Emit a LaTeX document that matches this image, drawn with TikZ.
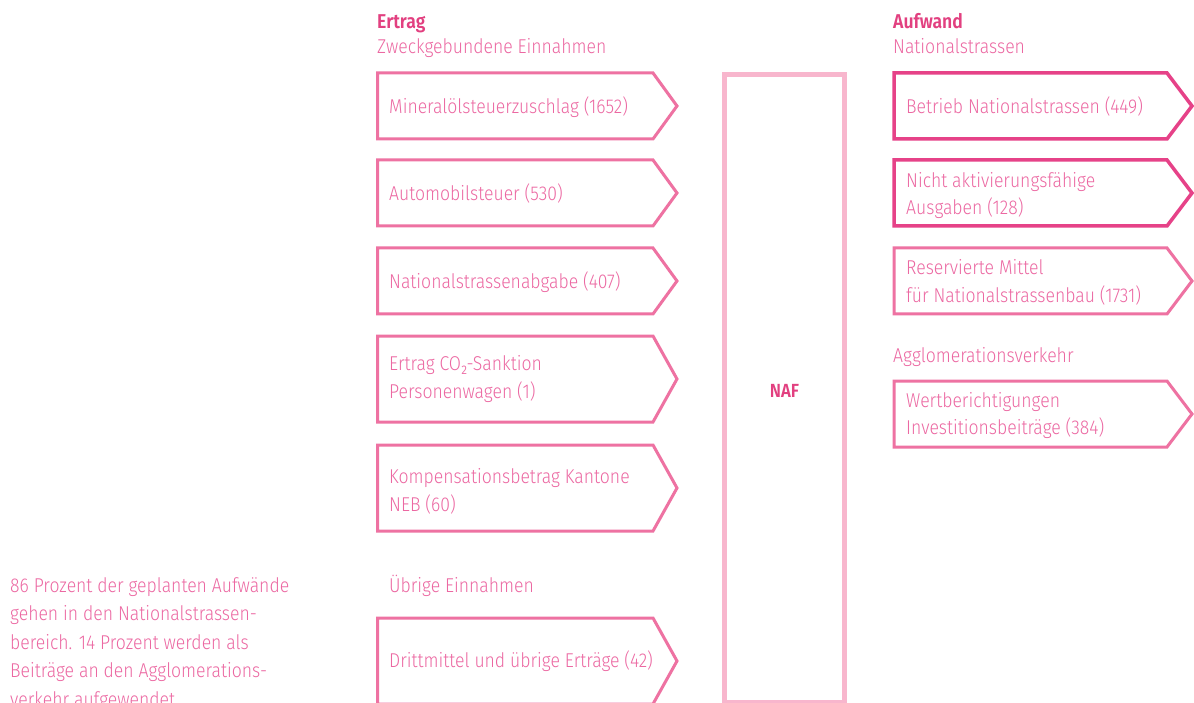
\documentclass[tikz,border=0pt]{standalone}
\usepackage{fontspec}
\setmainfont{Fira Sans}[UprightFont=* Light, BoldFont=* SemiBold, FakeStretch=0.88]
\definecolor{txtpink}{RGB}{236,104,162}
\definecolor{headpink}{RGB}{226,64,128}
\definecolor{boxlight}{RGB}{238,114,162}
\definecolor{boxdark}{RGB}{230,66,136}
\definecolor{nafpink}{RGB}{248,182,205}
\tikzset{
  txt/.style={anchor=base west, inner sep=0pt, text=txtpink, font=\fontsize{20}{27}\selectfont},
  head/.style={anchor=base west, inner sep=0pt, text=headpink, font=\fontsize{20}{27}\selectfont\bfseries},
  lbox/.style={draw=boxlight, line width=3pt, line join=miter},
  dbox/.style={draw=boxdark, line width=3.5pt, line join=miter},
}
% arrow box: #1 style, #2 x0, #3 x1 (rect end), #4 x2 (tip), #5 top, #6 bottom
\newcommand{\arrbox}[6]{\draw[#1] (#2,#5) -- (#3,#5) -- (#4,{(#5+#6)/2}) -- (#3,#6) -- (#2,#6) -- cycle;}
\begin{document}
\begin{tikzpicture}[x=1pt,y=-1pt]
\clip (0,0) rectangle (1194,703);
\fill[white] (0,0) rectangle (1194,703);

% headers left
\node[head] (ertrag) at (377,29) {Ertrag};
\node[txt] (zweck) at (377,54) {Zweckgebundene Einnahmen};

% left boxes
\arrbox{lbox}{377.5}{653}{677}{73}{139}
\node[txt] (l1) at (389,114) {Mineralölsteuerzuschlag (1652)};
\arrbox{lbox}{377.5}{653}{677}{160}{226}
\node[txt] (l2) at (389,201) {Automobilsteuer (530)};
\arrbox{lbox}{377.5}{653}{677}{248}{314}
\node[txt] (l3) at (389,289) {Nationalstrassenabgabe (407)};
\arrbox{lbox}{377.5}{653}{677}{336}{422}
\node[txt] (l4a) at (389,370) {Ertrag CO₂-Sanktion};
\node[txt] (l4b) at (389,398) {Personenwagen (1)};
\arrbox{lbox}{377.5}{653}{677}{445}{531}
\node[txt] (l5a) at (389,483) {Kompensationsbetrag Kantone};
\node[txt] (l5b) at (389,511) {NEB (60)};
\node[txt] (ueb) at (389,592) {Übrige Einnahmen};
\arrbox{lbox}{377.5}{653}{677}{618}{704}
\node[txt] (l6) at (389,667) {Drittmittel und übrige Erträge (42)};

% NAF
\draw[draw=nafpink, line width=5pt] (724.5,74.5) rectangle (844.5,702.5);
\node[anchor=center, inner sep=0pt, text=headpink, font=\fontsize{19}{22}\selectfont\bfseries] (naf) at (784.5,391) {NAF};

% headers right
\node[head] (aufwand) at (893,29) {Aufwand};
\node[txt] (nat) at (893,54) {Nationalstrassen};

\arrbox{dbox}{894}{1167}{1192}{73}{139}
\node[txt] (r1) at (906,114) {Betrieb Nationalstrassen (449)};
\arrbox{dbox}{894}{1167}{1192}{160}{226}
\node[txt] (r2a) at (906,188) {Nicht aktivierungsfähige};
\node[txt] (r2b) at (906,215) {Ausgaben (128)};
\arrbox{lbox}{894}{1167}{1192}{248}{314}
\node[txt] (r3a) at (906,275) {Reservierte Mittel};
\node[txt] (r3b) at (906,303) {für Nationalstrassenbau (1731)};
\node[txt] (agglo) at (893,362) {Agglomerationsverkehr};
\arrbox{lbox}{894}{1167}{1192}{381}{447}
\node[txt] (r4a) at (906,407) {Wertberichtigungen};
\node[txt] (r4b) at (906,434) {Investitionsbeiträge (384)};

% bottom left paragraph
\node[txt] (p1) at (10,592) {86 Prozent der geplanten Aufwände};
\node[txt] (p2) at (10,620.5) {gehen in den Nationalstrassen-};
\node[txt] (p3) at (10,649) {bereich. 14 Prozent werden als};
\node[txt] (p4) at (10,677.5) {Beiträge an den Agglomerations-};
\node[txt] (p5) at (10,706) {verkehr aufgewendet.};
\end{tikzpicture}
\end{document}
